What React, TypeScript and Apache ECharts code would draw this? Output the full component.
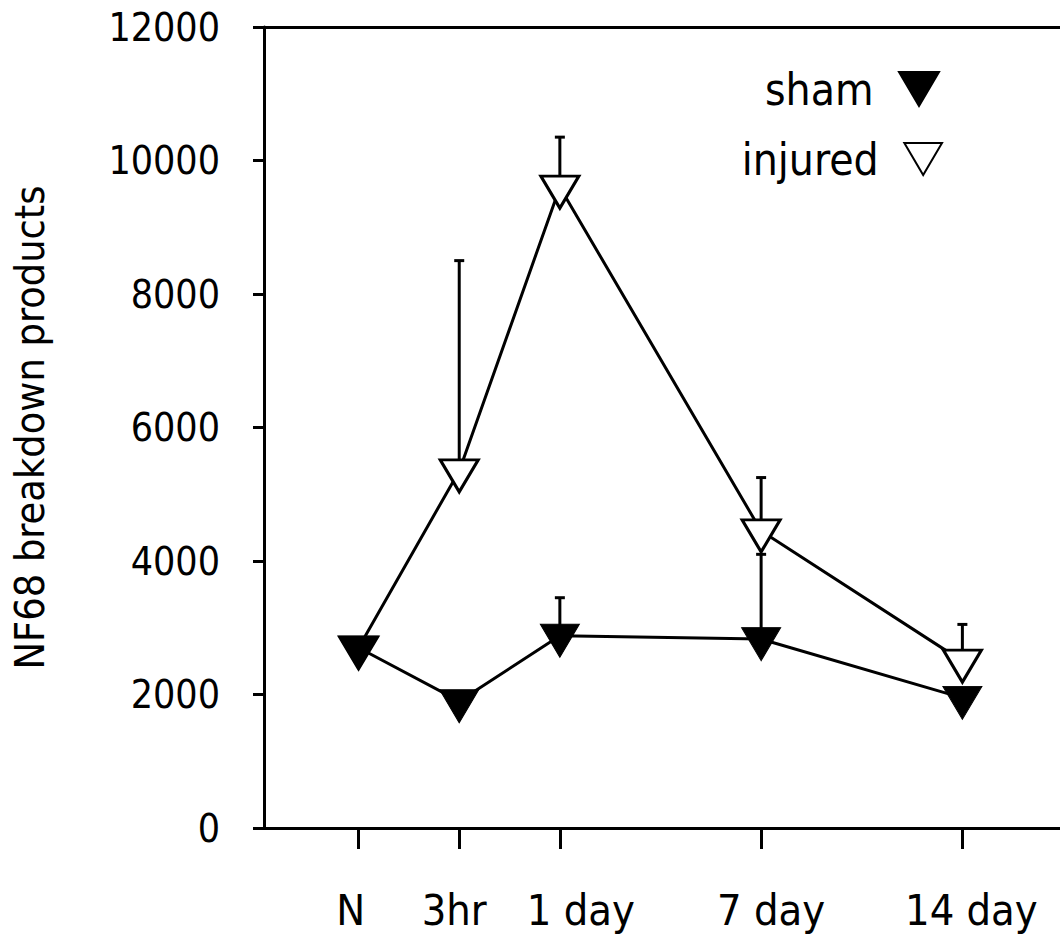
import React, { useEffect, useRef } from "react";
import * as echarts from "echarts";

const categories = ["N", "3hr", "1 day", "7 day", "14 day"];
const xPositions = [0, 1, 2, 4, 6];
const shamMean = [2700, 1900, 2880, 2830, 1950];
const shamUpper: (number | null)[] = [null, null, 3450, 4100, null];
const injuredMean = [2700, 5350, 9600, 4450, 2500];
const injuredUpper: (number | null)[] = [null, 8500, 10350, 5250, 3050];
const yMin = 0;
const yMax = 12000;
const yStep = 2000;

const FONT = "'Liberation Sans Narrow', 'DejaVu Sans Condensed', 'Arial Narrow', sans-serif";
const TRI_DOWN = "path://M0,0 L40,0 L20,34 Z";

function errData(means: number[], uppers: (number | null)[]) {
  const out: number[][] = [];
  uppers.forEach((u, i) => {
    if (u != null) out.push([xPositions[i], means[i], u]);
  });
  return out;
}

function renderErr(params: any, api: any) {
  const x = api.value(0);
  const y = api.value(1);
  const hi = api.value(2);
  const p0 = api.coord([x, y]);
  const p1 = api.coord([x, hi]);
  return {
    type: "group",
    children: [
      { type: "line", shape: { x1: p0[0], y1: p0[1], x2: p1[0], y2: p1[1] }, style: { stroke: "#000", lineWidth: 3 } },
      { type: "line", shape: { x1: p1[0] - 5, y1: p1[1], x2: p1[0] + 5, y2: p1[1] }, style: { stroke: "#000", lineWidth: 3 } },
    ],
  };
}

// label nudges (rich-text padding) so labels sit where the reference prints them
const labelRich: Record<string, any> = {
  l0: { padding: [0, 16, 0, 0] },
  l1: { padding: [0, 10, 0, 0] },
  l2: { padding: [0, 0, 0, 42] },
  l3: { padding: [0, 0, 0, 20] },
  l4: { padding: [0, 0, 0, 18] },
};
Object.keys(labelRich).forEach((k) => {
  labelRich[k] = { ...labelRich[k], fontFamily: FONT, fontSize: 43, color: "#000" };
});

export default function App() {
  const ref = useRef<HTMLDivElement>(null);
  useEffect(() => {
    if (!ref.current) return;
    const chart = echarts.init(ref.current, null, { renderer: "svg" });
    const labelMap: Record<number, string> = {};
    xPositions.forEach((p, i) => (labelMap[p] = `{l${i}|${categories[i]}}`));
    chart.setOption({
      animation: false,
      backgroundColor: "#fff",
      textStyle: { fontFamily: FONT, color: "#000" },
      grid: { left: 264, top: 27, right: 0, bottom: 115 },
      legend: [
        {
          data: [{ name: "sham", icon: TRI_DOWN }],
          right: 115,
          top: 62,
          align: "right",
          itemWidth: 41,
          itemHeight: 34,
          textStyle: { fontFamily: FONT, fontSize: 44, color: "#000", padding: [0, 20, 0, 0] },
          selectedMode: false,
        },
        {
          data: [{ name: "injured", icon: TRI_DOWN }],
          right: 112,
          top: 132,
          align: "right",
          itemWidth: 39,
          itemHeight: 32,
          textStyle: { fontFamily: FONT, fontSize: 44, color: "#000", padding: [0, 20, 0, 0] },
          selectedMode: false,
        },
      ],
      xAxis: [
        {
          type: "value",
          min: -0.94,
          max: 6.97,
          splitLine: { show: false },
          axisLine: { show: true, onZero: false, lineStyle: { color: "#000", width: 3 } },
          axisTick: { show: true, length: 21, customValues: xPositions, lineStyle: { color: "#000", width: 3 } },
          axisLabel: {
            customValues: xPositions,
            formatter: (v: number) => labelMap[v] ?? "",
            rich: labelRich,
            fontFamily: FONT,
            fontSize: 43,
            color: "#000",
            margin: 60,
          },
        },
        {
          type: "value",
          position: "top",
          min: -0.94,
          max: 6.97,
          splitLine: { show: false },
          axisLine: { show: true, onZero: false, lineStyle: { color: "#000", width: 3 } },
          axisTick: { show: false },
          axisLabel: { show: false },
        },
      ],
      yAxis: {
        type: "value",
        min: yMin,
        max: yMax,
        interval: yStep,
        name: "NF68 breakdown products",
        nameLocation: "middle",
        nameRotate: 90,
        nameGap: 214,
        nameTextStyle: { fontFamily: FONT, fontSize: 41, color: "#000" },
        splitLine: { show: false },
        axisLine: { show: true, onZero: false, lineStyle: { color: "#000", width: 3 } },
        axisTick: { show: true, length: 11, lineStyle: { color: "#000", width: 3 } },
        axisLabel: {
          fontFamily: FONT,
          fontSize: 39,
          color: "#000",
          margin: 44,
          formatter: (v: number) => String(v),
        },
      },
      series: [
        {
          type: "custom",
          name: "injuredErr",
          renderItem: renderErr,
          data: errData(injuredMean, injuredUpper),
          z: 1,
          silent: true,
        },
        {
          type: "custom",
          name: "shamErr",
          renderItem: renderErr,
          data: errData(shamMean, shamUpper),
          z: 1,
          silent: true,
        },
        {
          type: "line",
          name: "injured",
          data: xPositions.map((x, i) => [x, injuredMean[i]]),
          symbol: "triangle",
          symbolSize: [38, 32],
          symbolRotate: 180,
          symbolOffset: [0, 5],
          showAllSymbol: true,
          lineStyle: { color: "#000", width: 3 },
          itemStyle: { color: "#fff", borderColor: "#000", borderWidth: 3 },
          z: 2,
        },
        {
          type: "line",
          name: "sham",
          data: xPositions.map((x, i) => [x, shamMean[i]]),
          symbol: "triangle",
          symbolSize: [39, 33],
          symbolRotate: 180,
          symbolOffset: [0, 5],
          showAllSymbol: true,
          lineStyle: { color: "#000", width: 3 },
          itemStyle: { color: "#000", borderColor: "#000", borderWidth: 1 },
          z: 3,
        },
      ],
    });
    return () => chart.dispose();
  }, []);
  return <div ref={ref} style={{ position: "absolute", left: 0, top: 0, width: 1060, height: 943 }} />;
}
